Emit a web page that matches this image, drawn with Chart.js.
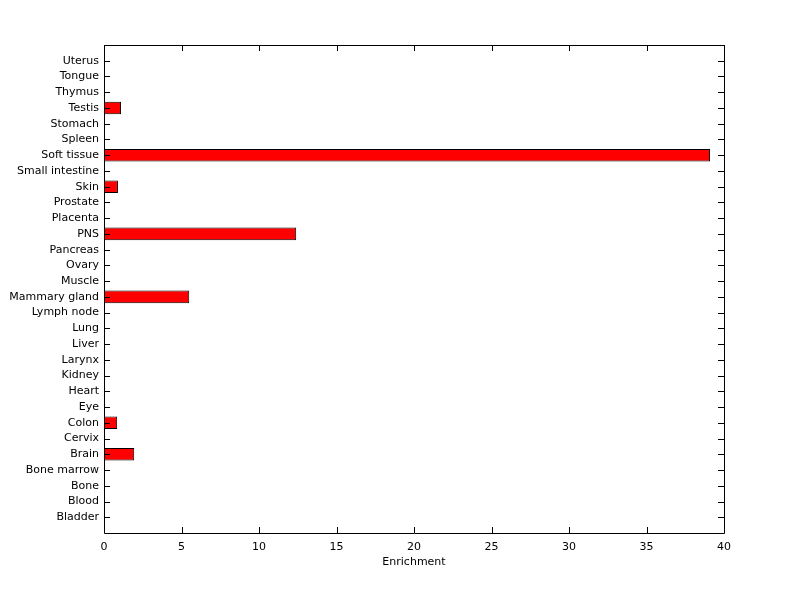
<!DOCTYPE html>
<html>
<head>
<meta charset="utf-8">
<script src="https://cdn.jsdelivr.net/npm/chart.js@4/dist/chart.umd.min.js"></script>
<style>
  html, body { margin: 0; padding: 0; background: #fff; }
  #wrap { width: 800px; height: 599px; }
</style>
</head>
<body>
<div id="wrap"><canvas id="chart" width="800" height="599"></canvas></div>
<script>
// tissues, bottom to top as on the axis
const tissues = ["Bladder", "Blood", "Bone", "Bone marrow", "Brain", "Cervix", "Colon", "Eye",
  "Heart", "Kidney", "Larynx", "Liver", "Lung", "Lymph node", "Mammary gland", "Muscle",
  "Ovary", "Pancreas", "PNS", "Placenta", "Prostate", "Skin", "Small intestine",
  "Soft tissue", "Spleen", "Stomach", "Testis", "Thymus", "Tongue", "Uterus"];
const enrichment = [0, 0, 0, 0, 1.95, 0, 0.85, 0,
  0, 0, 0, 0, 0, 0, 5.5, 0,
  0, 0, 12.4, 0, 0, 0.9, 0,
  39.1, 0, 0, 1.1, 0, 0, 0];
const xTicks = [0, 5, 10, 15, 20, 25, 30, 35, 40];

// blank slots at both ends give the one-unit margin matlab leaves
const labels = [""].concat(tissues, [""]);
const values = [null].concat(enrichment, [null]);

const FONT = { family: "'DejaVu Sans', sans-serif", size: 11 };

// matlab style box with inward ticks on all four sides
const boxTicks = {
  id: "boxTicks",
  afterDraw(chart) {
    const ctx = chart.ctx;
    const a = chart.chartArea;
    const xs = chart.scales.x, ys = chart.scales.y;
    const len = 6;
    ctx.save();
    ctx.strokeStyle = "#000";
    ctx.lineWidth = 1;
    ctx.beginPath();
    ctx.rect(Math.round(a.left) + 0.5, Math.round(a.top) + 0.5,
      Math.round(a.right - a.left), Math.round(a.bottom - a.top));
    xs.ticks.forEach((t, i) => {
      const px = Math.round(xs.getPixelForTick(i)) + 0.5;
      ctx.moveTo(px, a.bottom); ctx.lineTo(px, a.bottom - len);
      ctx.moveTo(px, a.top); ctx.lineTo(px, a.top + len);
    });
    ys.ticks.forEach((t, i) => {
      if (!labels[t.value]) return;
      const py = Math.round(ys.getPixelForTick(i)) + 0.5;
      ctx.moveTo(a.left, py); ctx.lineTo(a.left + len, py);
      ctx.moveTo(a.right, py); ctx.lineTo(a.right - len, py);
    });
    ctx.stroke();
    ctx.restore();
  }
};

new Chart(document.getElementById("chart"), {
  type: "bar",
  data: {
    labels: labels,
    datasets: [{
      data: values,
      backgroundColor: "#ff0000",
      borderColor: "#000000",
      borderWidth: 1,
      borderSkipped: false,
      categoryPercentage: 1,
      barPercentage: 0.8
    }]
  },
  options: {
    indexAxis: "y",
    responsive: false,
    animation: false,
    layout: { padding: { left: 0, right: 76, top: 45, bottom: 0 } },
    plugins: { legend: { display: false }, tooltip: { enabled: false } },
    scales: {
      x: {
        type: "linear",
        min: 0, max: 40,
        afterBuildTicks: s => { s.ticks = xTicks.map(v => ({ value: v })); },
        afterFit: s => { s.height = 66; },
        grid: { display: false, drawTicks: false },
        border: { display: false },
        ticks: { color: "#000", font: FONT, padding: 8, maxRotation: 0 },
        title: { display: true, text: "Enrichment", color: "#000", font: FONT, padding: { top: 4, bottom: 30 } }
      },
      y: {
        type: "category",
        reverse: true,
        offset: false,
        afterFit: s => { s.width = 104; },
        grid: { display: false, drawTicks: false },
        border: { display: false },
        ticks: { color: "#000", font: FONT, padding: 5, autoSkip: false }
      }
    }
  },
  plugins: [boxTicks]
});
</script>
</body>
</html>
